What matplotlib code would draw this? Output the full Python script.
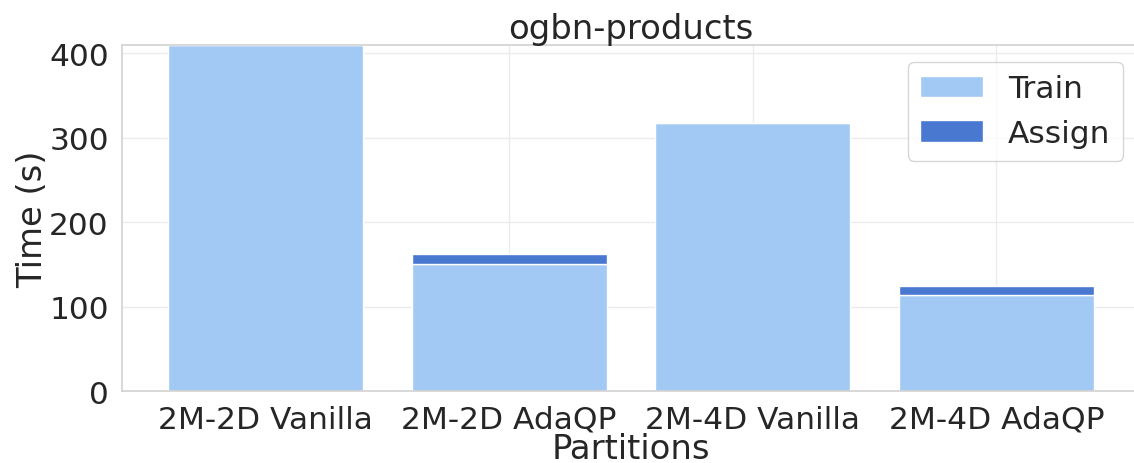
import numpy as np
import matplotlib.pyplot as plt
import seaborn as sns

sns.set_theme(style="whitegrid", font_scale=2.03,
              rc={"grid.color": "#ebebeb", "axes.edgecolor": "#d4d4d4"})

labels = ["2M-2D Vanilla", "2M-2D AdaQP", "2M-4D Vanilla", "2M-4D AdaQP"]
train = [410, 151, 317, 114]
assign = [0, 11, 0, 10]

pal = sns.color_palette("pastel")
muted = sns.color_palette("muted")

fig, ax = plt.subplots(figsize=(11.34, 4.64), dpi=100)
x = np.arange(len(labels))
ax.bar(x, train, width=0.8, color=pal[0], edgecolor="white", label="Train")
ax.bar(x, assign, width=0.8, bottom=train, color=muted[0], edgecolor="white", label="Assign")

ax.set_xticks(x)
ax.set_xticklabels(labels, fontsize=22.5)
ax.tick_params(axis="y", labelsize=22.5)
ax.set_ylim(0, max(t + a for t, a in zip(train, assign)))
ax.set_yticks([0, 100, 200, 300, 400])
ax.set_xlabel("Partitions", labelpad=-1)
ax.set_ylabel("Time (s)", labelpad=0)
ax.set_title("ogbn-products", pad=5)
ax.legend(loc="upper right", fontsize=22.5, borderaxespad=0.55)

fig.subplots_adjust(left=0.1076, right=1.0053, top=0.9015, bottom=0.1545)
fig.savefig("out.png")
